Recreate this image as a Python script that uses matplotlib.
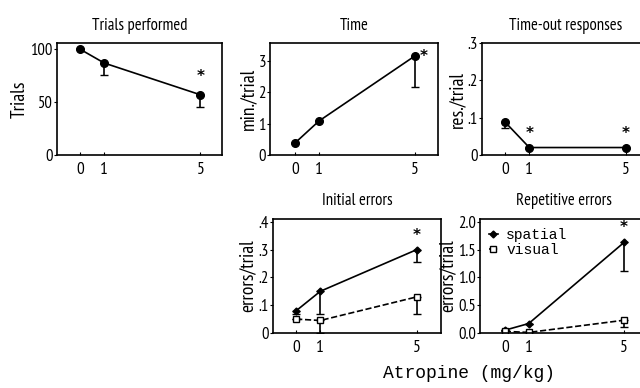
import matplotlib
matplotlib.use("Agg")
import matplotlib.pyplot as plt

NARROW = ['PT Sans Narrow', 'Roboto Condensed', 'DejaVu Sans']
MONO = ['Liberation Mono', 'DejaVu Sans Mono']
plt.rcParams['font.family'] = NARROW

doses = [0, 1, 5]
dose_labels = ['0', '1', '5']

trials = [100, 87, 57]
trials_lo = [0, 11, 12]
time_vals = [0.38, 1.08, 3.15]
time_lo = [0, 0, 1.0]
timeout = [0.088, 0.02, 0.02]
timeout_lo = [0.015, 0, 0]

init_spatial = [0.08, 0.15, 0.30]
init_spatial_lo = [0.01, 0.08, 0.045]
init_visual = [0.05, 0.045, 0.13]
init_visual_lo = [0, 0.045, 0.06]

rep_spatial = [0.05, 0.17, 1.63]
rep_spatial_lo = [0, 0, 0.51]
rep_visual = [0.03, 0.01, 0.23]
rep_visual_lo = [0, 0, 0.12]

fig = plt.figure(figsize=(6.4, 3.88), dpi=100)

def make_ax(left_px, top_px, right_px, bottom_px):
    W, H = 640, 388
    return fig.add_axes([left_px / W, 1 - bottom_px / H,
                         (right_px - left_px) / W, (bottom_px - top_px) / H])

def style(ax, title, ylabel, yticks, yticklabels, ylim, xlim, tpad=9):
    ax.set_title(title, fontsize=12, pad=tpad)
    ax.set_ylabel(ylabel, fontsize=14, labelpad=1)
    ax.set_xticks(doses)
    ax.set_xticklabels(dose_labels, fontsize=12.5)
    ax.set_yticks(yticks)
    ax.set_yticklabels(yticklabels, fontsize=12)
    ax.set_ylim(*ylim)
    ax.set_xlim(*xlim)
    ax.tick_params(axis='y', direction='out', length=2, width=0.8, pad=1)
    ax.tick_params(axis='x', direction='in', length=2, width=0.8, pad=5)
    for s in ax.spines.values():
        s.set_linewidth(1.2)

def star(ax, x, y, dx=0, dy=4):
    ax.annotate('*', (x, y), xytext=(dx, dy), textcoords='offset points',
                ha='center', va='bottom', fontsize=11, fontweight='bold',
                family='DejaVu Sans')

# Trials performed
ax1 = make_ax(57, 43, 222, 155)
ax1.errorbar(doses, trials, yerr=[trials_lo, [0, 0, 0]], fmt='-o', color='black',
             ms=5.5, lw=1.2, capsize=3, elinewidth=1.2)
style(ax1, 'Trials performed', 'Trials', [0, 50, 100], ['0', '50', '100'], (0, 106), (-0.97, 5.9))
star(ax1, 5, 57, dy=8)

# Time
ax2 = make_ax(270, 43, 438, 155)
ax2.errorbar(doses, time_vals, yerr=[time_lo, [0, 0, 0]], fmt='-o', color='black',
             ms=5.5, lw=1.2, capsize=3, elinewidth=1.2)
style(ax2, 'Time', 'min./trial', [0, 1, 2, 3], ['0', '1', '2', '3'], (0, 3.56), (-1.04, 5.96))
star(ax2, 5, 3.15, dx=6, dy=-6)

# Time-out responses
ax3 = make_ax(482, 43, 650, 155)
ax3.errorbar(doses, timeout, yerr=[timeout_lo, [0, 0, 0]], fmt='-o', color='black',
             ms=5.5, lw=1.2, capsize=3, elinewidth=1.2)
style(ax3, 'Time-out responses', 'res./trial', [0, 0.1, 0.2, 0.3], ['0', '.1', '.2', '.3'], (0, 0.3), (-0.96, 6.0))
star(ax3, 1, 0.02, dy=5)
star(ax3, 5, 0.02, dy=5)

# Initial errors
ax4 = make_ax(273, 219, 441, 333)
ax4.errorbar(doses, init_spatial, yerr=[init_spatial_lo, [0, 0, 0]], fmt='-D', color='black',
             ms=3.5, lw=1.2, capsize=3, elinewidth=1.2, label='spatial')
ax4.errorbar(doses, init_visual, yerr=[init_visual_lo, [0, 0, 0]], fmt='--s', color='black',
             mfc='white', ms=5, lw=1.2, capsize=3, elinewidth=1.2, label='visual')
style(ax4, 'Initial errors', 'errors/trial', [0, 0.1, 0.2, 0.3, 0.4], ['0', '.1', '.2', '.3', '.4'],
      (0, 0.41), (-0.96, 6.0), tpad=10)
star(ax4, 5, 0.30, dy=5)

# Repetitive errors
ax5 = make_ax(480, 219, 648, 333)
ax5.errorbar(doses, rep_spatial, yerr=[rep_spatial_lo, [0, 0, 0]], fmt='-D', color='black',
             ms=3.5, lw=1.2, capsize=3, elinewidth=1.2, label='spatial')
ax5.errorbar(doses, rep_visual, yerr=[rep_visual_lo, [0, 0, 0]], fmt='--s', color='black',
             mfc='white', ms=5, lw=1.2, capsize=3, elinewidth=1.2, label='visual')
style(ax5, 'Repetitive errors', 'errors/trial', [0, 0.5, 1.0, 1.5, 2.0], ['0.0', '0.5', '1.0', '1.5', '2.0'],
      (0, 2.05), (-1.04, 6.0), tpad=10)
star(ax5, 5, 1.63, dy=5)
h, l = ax5.get_legend_handles_labels()
ax5.legend([x[0] for x in h], l, loc='upper left', frameon=False,
           prop={'family': MONO, 'size': 10.5},
           handlelength=0.6, handletextpad=0.6, borderaxespad=0.2, labelspacing=0.1)

fig.text(0.733, 0.038, 'Atropine (mg/kg)', ha='center', va='center', fontsize=13, family=MONO)

fig.savefig('out.png', dpi=100)
